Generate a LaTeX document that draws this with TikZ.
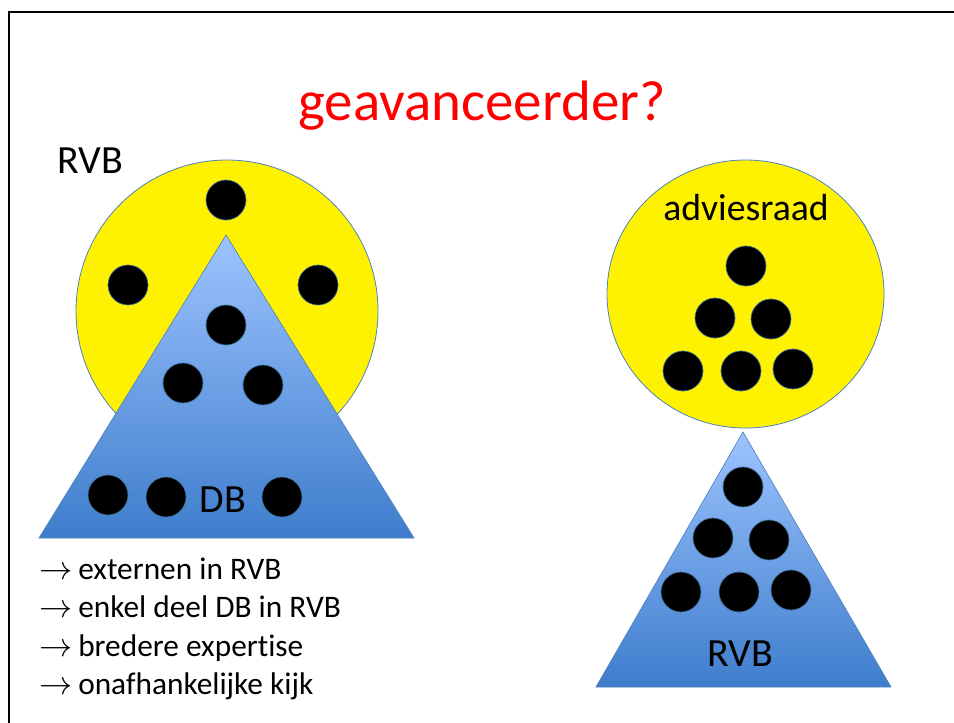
\documentclass[tikz,border=0pt]{standalone}
\usepackage{graphicx}
\usepackage{fontspec}
\setmainfont[Ligatures=NoCommon]{Carlito}
\usetikzlibrary{shapes.geometric}
\definecolor{dotline}{RGB}{65,113,156}
\definecolor{ringline}{RGB}{79,129,189}
\definecolor{tritop}{RGB}{157,195,255}
\definecolor{tribot}{RGB}{62,125,204}
\definecolor{titlered}{RGB}{255,0,0}
\tikzset{
  member/.style={circle,fill=black,draw=dotline,line width=0.5pt,minimum size=30pt,inner sep=0pt},
  council/.style={fill=yellow,draw=ringline,line width=0.6pt},
  pyramid/.style={top color=tritop,bottom color=tribot,draw=ringline,line width=0.5pt},
  label30/.style={font=\fontsize{30}{36}\selectfont,anchor=base,inner sep=0pt},
  listline/.style={font=\fontsize{23.5}{28}\selectfont,anchor=base west,inner sep=0pt}
}
\newcommand{\arr}{\makebox[29.25pt][l]{$\rightarrow$}}
\begin{document}
\begin{tikzpicture}[x=0.75pt,y=-0.75pt]
\useasboundingbox (0,0) rectangle (954,722);
% slide frame
\draw[line width=1.6pt] (9,760) -- (9,12) -- (1000,12);
% title
\node[font=\fontsize{42.7}{50}\selectfont,text=titlered,anchor=base,inner sep=0pt] (title) at (482,120) {geavanceerder?};
% left structure
\node[council,circle,minimum size=226.5pt,inner sep=0pt] (rvbcircle) at (227,311) {};
\path[pyramid] (226,235) -- (414,538) -- (39,538) -- cycle;
\coordinate (dbtri) at (226,235);
\node[label30] (rvblabel) at (90,173) {RVB};
\node[member] (l1) at (226,200) {};
\node[member] (l2) at (128,285) {};
\node[member] (l3) at (318,285) {};
\node[member] (l4) at (226,325) {};
\node[member] (l5) at (183,383) {};
\node[member] (l6) at (263,385) {};
\node[member] (l7) at (108,495) {};
\node[member] (l8) at (166,497) {};
\node[member] (l9) at (282,497) {};
\node[label30] (db) at (223,512) {DB};
% list
\node[listline] (a1) at (39,579) {\arr externen in RVB};
\node[listline] (a2) at (39,617) {\arr enkel deel DB in RVB};
\node[listline] (a3) at (39,656) {\arr bredere expertise};
\node[listline] (a4) at (39,694) {\arr onafhankelijke kijk};
% right structure
\draw[council] (745.5,294) ellipse [x radius=138.5, y radius=134];
\coordinate (adv) at (745.5,294);
\node[label30,font=\fontsize{28.3}{34}\selectfont] (advlabel) at (746,220) {adviesraad};
\node[member] (r1) at (746,266) {};
\node[member] (r2) at (715,318) {};
\node[member] (r3) at (771,319) {};
\node[member] (r4) at (683,371) {};
\node[member] (r5) at (741,371) {};
\node[member] (r6) at (793,369) {};
\path[pyramid] (743,432) -- (891,687) -- (596,687) -- cycle;
\node[member] (t1) at (743,487) {};
\node[member] (t2) at (713,538) {};
\node[member] (t3) at (769,540) {};
\node[member] (t4) at (681,592) {};
\node[member] (t5) at (739,592) {};
\node[member] (t6) at (791,590) {};
\node[label30] (rvb2) at (740,666) {RVB};
\end{tikzpicture}
\end{document}
